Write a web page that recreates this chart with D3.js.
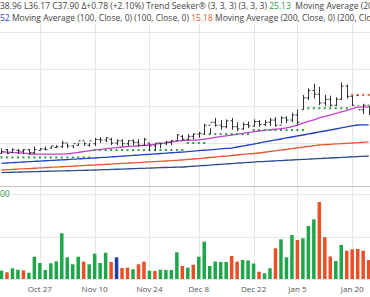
<!DOCTYPE html>
<html lang="en">
<head>
<meta charset="utf-8">
<title>Chart</title>
<script src="https://d3js.org/d3.v7.min.js"></script>
<style>
  body { margin: 0; background: #fff; }
  svg { display: block; font-family: "Open Sans", sans-serif; }
</style>
</head>
<body>
<svg id="canvas" width="370" height="297"></svg>
<script>

// ************************************************************************************** //
// Data

var startDate = '2025-10-16';
var holidays = ['2025-11-27', '2025-12-25', '2026-01-01', '2026-01-19'];

var high  = [29.3,29.2,29.3,29.2,29.2,29.2,29.5,29.3,29.5,29.6,29.7,30.3,29.9,29.7,30.0,30.1,30.0,30.7,30.8,30.8,30.7,30.5,30.5,30.4,30.5,30.5,30.7,30.0,29.9,30.0,30.3,30.4,31.2,31.1,31.2,31.3,31.5,32.6,31.2,33.4,33.1,33.2,33.4,32.8,32.8,32.9,33.2,33.1,33.1,33.4,33.5,33.6,33.6,34.1,34.5,36.5,37.4,38.0,37.6,36.5,36.4,36.2,38.2,37.9,36.4,35.1,35.3,35.0];
var low   = [28.5,28.5,28.6,28.5,28.5,28.4,28.5,29.0,29.0,29.3,29.3,29.3,29.3,29.3,29.6,29.6,29.5,29.6,30.0,30.1,29.7,29.7,29.5,29.6,29.7,29.5,29.6,28.9,28.9,29.3,29.7,29.7,30.3,30.3,30.4,30.5,30.7,31.1,32.0,32.2,31.8,32.0,31.8,31.6,31.8,32.0,32.2,32.2,32.3,32.3,32.2,32.6,32.7,32.8,32.4,34.5,35.8,36.0,35.1,35.0,34.9,35.0,35.8,36.0,35.0,35.0,33.9,33.8];
var open  = [28.6,29.1,28.7,29.0,28.9,29.1,28.7,29.0,29.2,29.3,29.4,29.5,30.0,29.6,29.7,30.3,29.7,29.9,30.5,30.4,30.5,30.0,30.3,29.9,30.3,30.1,29.7,30.0,29.6,30.0,29.9,30.1,30.3,30.9,30.5,30.9,31.2,31.2,32.4,32.8,32.4,32.2,33.0,32.2,31.9,32.5,32.3,32.9,32.5,32.8,33.1,32.4,33.4,33.1,33.8,34.5,36.1,37.1,36.6,35.4,35.9,35.1,35.9,37.7,36.3,36.4,34.5,35.1];
var close = [28.8,28.6,29.1,28.9,29.1,28.7,29.1,29.2,29.1,29.6,29.5,30.0,29.6,29.9,30.3,29.9,30.3,30.5,30.4,30.7,30.0,30.3,29.9,30.3,30.1,29.7,30.5,29.6,30.0,29.9,30.1,30.3,31.1,30.5,30.9,31.2,31.3,32.4,32.8,32.4,32.2,33.0,32.2,31.9,32.5,32.3,32.9,32.5,32.8,33.1,32.4,33.4,33.1,33.8,32.8,36.1,37.1,36.6,35.4,35.9,35.1,35.9,37.7,36.3,35.1,34.5,35.1,34.5];

var vol    = [0.98,0.79,1.26,1.09,1.02,0.74,2.62,1.88,1.06,1.85,2.08,5.38,2.55,1.73,2.62,2.04,1.73,2.98,1.88,3.09,2.00,2.55,1.29,1.33,1.14,1.73,2.04,0.98,0.94,1.09,1.06,1.06,3.14,1.53,1.33,1.68,2.62,4.39,1.53,2.06,2.00,2.00,2.71,2.04,2.24,2.18,1.82,0.86,0.67,1.26,3.61,4.67,2.55,5.18,4.59,4.79,6.24,7.02,9.06,4.91,2.65,2.12,4.00,3.33,3.49,3.53,3.33,2.24];
var volDir = ['u','d','u','u','d','u','u','u','u','u','u','u','u','u','u','d','u','u','u','u','d','n','d','d','u','d','d','u','d','u','u','u','u','d','u','d','u','u','u','u','u','u','d','d','u','u','u','d','u','u','d','u','u','u','d','u','u','u','d','d','d','u','u','d','d','d','d','d'];

var ma20  = [28.82,28.78,28.73,28.68,28.62,28.56,28.51,28.50,28.50,28.50,28.51,28.51,28.52,28.62,28.73,28.84,28.95,29.05,29.13,29.22,29.30,29.38,29.46,29.51,29.57,29.62,29.68,29.73,29.83,29.93,30.04,30.14,30.24,30.34,30.37,30.39,30.41,30.52,30.63,30.75,30.86,30.97,31.08,31.19,31.30,31.41,31.51,31.62,31.70,31.78,31.87,31.95,32.03,32.23,32.43,32.67,32.91,33.14,33.38,33.58,33.78,33.99,34.19,34.41,34.64,34.86,34.88,34.86];
var ma50  = [27.26,27.30,27.34,27.39,27.43,27.47,27.51,27.56,27.60,27.64,27.68,27.72,27.76,27.81,27.85,27.89,27.93,27.97,28.02,28.07,28.12,28.17,28.22,28.27,28.32,28.37,28.42,28.47,28.52,28.58,28.63,28.68,28.73,28.78,28.84,28.90,28.96,29.02,29.08,29.14,29.20,29.26,29.32,29.46,29.59,29.73,29.86,30.00,30.14,30.27,30.41,30.54,30.68,30.81,30.95,31.08,31.22,31.35,31.49,31.62,31.76,31.89,32.03,32.18,32.32,32.43,32.45,32.45];
var ma100 = [26.35,26.39,26.43,26.47,26.51,26.55,26.59,26.63,26.67,26.71,26.75,26.79,26.83,26.87,26.91,26.95,26.99,27.03,27.07,27.11,27.15,27.20,27.24,27.28,27.32,27.36,27.41,27.45,27.49,27.53,27.57,27.62,27.66,27.70,27.77,27.84,27.90,27.97,28.04,28.11,28.18,28.24,28.31,28.38,28.45,28.52,28.58,28.65,28.75,28.85,28.95,29.04,29.14,29.24,29.34,29.44,29.54,29.63,29.73,29.78,29.82,29.87,29.91,29.96,30.00,30.05,30.09,30.14];
var ma200 = [26.01,26.03,26.05,26.07,26.09,26.11,26.13,26.15,26.17,26.19,26.21,26.23,26.25,26.27,26.29,26.31,26.33,26.35,26.38,26.40,26.43,26.45,26.48,26.51,26.53,26.56,26.58,26.61,26.63,26.66,26.69,26.71,26.74,26.76,26.81,26.86,26.91,26.96,27.02,27.07,27.12,27.17,27.22,27.27,27.32,27.37,27.42,27.47,27.51,27.55,27.59,27.63,27.67,27.70,27.74,27.78,27.82,27.86,27.90,27.94,27.97,28.01,28.05,28.09,28.13,28.17,28.20,28.24];

var trend    = [28.05,28.05,28.05,28.05,28.05,28.05,28.05,28.05,28.05,28.05,28.05,28.05,28.05,28.05,28.05,28.05,28.05,29.05,29.05,29.05,29.05,29.05,29.05,29.05,29.05,29.05,29.05,29.05,29.05,29.05,29.05,29.05,29.05,29.05,30.0,30.0,30.0,30.0,31.2,31.2,31.2,31.2,31.2,31.2,31.2,31.2,31.75,31.75,31.75,31.75,31.75,31.75,31.75,31.75,31.75,31.75,34.7,34.7,34.7,34.7,34.7,34.7,34.7,34.7,36.5,36.5,36.5,36.5];
var trendDir = ['u','u','u','u','u','u','u','u','u','u','u','u','u','u','u','u','u','u','u','u','u','u','u','u','u','u','u','u','u','u','u','u','u','u','u','u','u','u','u','u','u','u','u','u','u','u','u','u','u','u','u','u','u','u','u','u','u','u','u','u','u','u','u','u','d','d','d','d'];

var tickLabels = ['Oct 27', 'Nov 10', 'Nov 24', 'Dec 8', 'Dec 22', 'Jan 5', 'Jan 20'];
var tickDates  = ['2025-10-27', '2025-11-10', '2025-11-24', '2025-12-08', '2025-12-22', '2026-01-05', '2026-01-20'];
var priceTicks = [30, 35, 40, 45];
var volTicks = [5, 10];

// ************************************************************************************** //
// Trading day list

var fmt = d3.timeFormat('%Y-%m-%d');
var days = [];
(function(){
  var d = d3.timeParse('%Y-%m-%d')(startDate);
  while(days.length < close.length){
    var wd = d.getDay();
    if(wd != 0 && wd != 6 && holidays.indexOf(fmt(d)) < 0) days.push(fmt(d));
    d = d3.timeDay.offset(d, 1);
  }
})();

var bars = days.map(function(d, i){
  return { date: d, o: open[i], h: high[i], l: low[i], c: close[i], v: vol[i], vd: volDir[i] };
});

// ************************************************************************************** //
// Scales

var width = 370, height = 297;
var svg = d3.select('#canvas');

var x = d3.scaleBand().domain(days).range([-1.25, days.length * 5.48 - 1.25]).paddingInner(0.36).paddingOuter(0.18);
var cx = function(d){ return x(d) + x.bandwidth() / 2; };

var yPrice = d3.scaleLinear().domain([30, 45]).range([143, 32]);
var yVol = d3.scaleLinear().domain([0, 10]).range([279, 194]);

var colors = { up: '#1fa64a', down: '#ea5028', neutral: '#1d3fae', grid: '#e6e6e6', text: '#555' };

// ************************************************************************************** //
// Grid

var grid = svg.append('g');
grid.selectAll('.vg').data(tickDates).enter().append('line')
  .attr('x1', function(d){ return Math.round(cx(d)) + 0.5; })
  .attr('x2', function(d){ return Math.round(cx(d)) + 0.5; })
  .attr('y1', 24).attr('y2', 280)
  .attr('stroke', colors.grid);

grid.selectAll('.hp').data(priceTicks).enter().append('line')
  .attr('x1', 0).attr('x2', width)
  .attr('y1', function(d){ return Math.round(yPrice(d)) + 0.5; })
  .attr('y2', function(d){ return Math.round(yPrice(d)) + 0.5; })
  .attr('stroke', colors.grid);

grid.selectAll('.hv').data(volTicks.concat([0])).enter().append('line')
  .attr('x1', 0).attr('x2', width)
  .attr('y1', function(d){ return Math.round(yVol(d)) + 0.5; })
  .attr('y2', function(d){ return Math.round(yVol(d)) + 0.5; })
  .attr('stroke', colors.grid);

// panel separator
svg.append('line').attr('x1', 0).attr('x2', width).attr('y1', 186.5).attr('y2', 186.5)
  .attr('stroke', '#c4c4c4').attr('stroke-width', 1.2);

// ************************************************************************************** //
// Moving averages

function maLine(arr, color){
  var gen = d3.line().x(function(d, i){ return cx(days[i]); }).y(function(d){ return yPrice(d); }).curve(d3.curveMonotoneX);
  svg.append('path').datum(arr).attr('d', gen).attr('fill', 'none').attr('stroke', color).attr('stroke-width', 1.3);
}
maLine(ma200, '#2b4d8f');
maLine(ma100, '#e5582e');
maLine(ma50, '#2342c4');
maLine(ma20, '#c63fd0');

// Trend seeker dots
svg.append('g').selectAll('rect').data(trend).enter().append('rect')
  .attr('x', function(d, i){ return cx(days[i]) - 1; })
  .attr('y', function(d){ return yPrice(d) - 1; })
  .attr('width', 2).attr('height', 2)
  .attr('fill', function(d, i){ return trendDir[i] == 'u' ? '#2e9a48' : '#e5582e'; });

// ************************************************************************************** //
// OHLC bars

var ohlc = svg.append('g').attr('stroke', '#333').attr('stroke-width', 1);
bars.forEach(function(b){
  var xm = Math.round(cx(b.date)) + 0.5;
  ohlc.append('line').attr('x1', xm).attr('x2', xm).attr('y1', yPrice(b.h)).attr('y2', yPrice(b.l));
  ohlc.append('line').attr('x1', xm - 2).attr('x2', xm).attr('y1', yPrice(b.o)).attr('y2', yPrice(b.o));
  ohlc.append('line').attr('x1', xm).attr('x2', xm + 2).attr('y1', yPrice(b.c)).attr('y2', yPrice(b.c));
});

// ************************************************************************************** //
// Volume

svg.append('g').selectAll('rect').data(bars).enter().append('rect')
  .attr('x', function(d){ return x(d.date); })
  .attr('width', x.bandwidth())
  .attr('y', function(d){ return yVol(d.v); })
  .attr('height', function(d){ return yVol(0) - yVol(d.v); })
  .attr('fill', function(d){ return d.vd == 'u' ? colors.up : (d.vd == 'd' ? colors.down : colors.neutral); });

// ************************************************************************************** //
// Axis labels

svg.append('g').selectAll('text').data(tickDates).enter().append('text')
  .attr('x', function(d){ return cx(d); })
  .attr('y', 292)
  .attr('text-anchor', 'middle')
  .attr('font-size', 8)
  .attr('fill', colors.text)
  .text(function(d, i){ return tickLabels[i]; });

// ************************************************************************************** //
// Legends (cut at left edge)

var fs = 8.5;
var legendLines = [
  { y: 9, hidden: 'O37.12 H', parts: [
      { t: '38.96 L36.17 C37.90 Δ+0.78 (+2.10%) Trend Seeker® (3, 3, 3) (3, 3, 3) ', c: '#444' },
      { t: '25.13', c: '#2e9a48' },
      { t: '  Moving Average (20, Close, 0) (20, Close, 0)', c: '#444' } ] },
  { y: 21, hidden: 'Moving Average (50, Close, 0) (50, Close, 0) 30.', parts: [
      { t: '52', c: '#2342c4' },
      { t: ' Moving Average (100, Close, 0) (100, Close, 0) ', c: '#444' },
      { t: '15.18', c: '#e5582e' },
      { t: ' Moving Average (200, Close, 0) (200, Close, 0)', c: '#444' } ] },
  { y: 197, hidden: 'Volume 5,251,9', parts: [ { t: '00', c: '#2e9a48' } ] }
];

legendLines.forEach(function(l){
  var probe = svg.append('text').attr('font-size', fs).attr('xml:space', 'preserve').text(l.hidden);
  var w = probe.node().getComputedTextLength();
  probe.remove();
  var t = svg.append('text').attr('x', -w).attr('y', l.y).attr('font-size', fs).attr('xml:space', 'preserve');
  t.append('tspan').attr('fill', '#444').text(l.hidden);
  l.parts.forEach(function(p){ t.append('tspan').attr('fill', p.c).text(p.t); });
});

</script>
</body>
</html>
